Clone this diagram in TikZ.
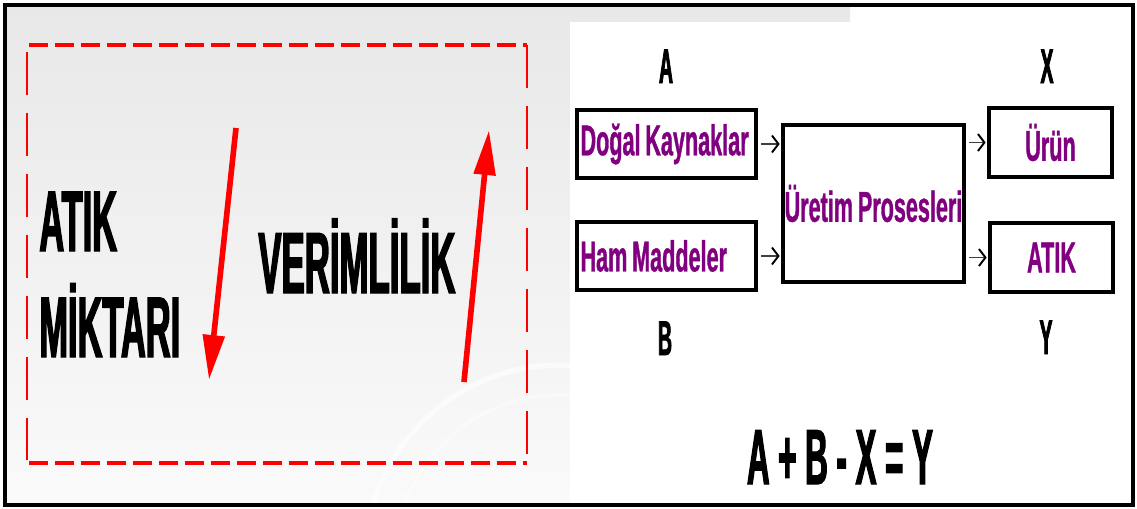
\documentclass[tikz,border=0pt]{standalone}
\usepackage{fontspec}
\newfontfamily\darfont[FakeStretch=0.4, FakeBold=1.5]{Liberation Sans}
\newfontfamily\kutufont[FakeStretch=0.5, WordSpace=0.8, FakeBold=0.8]{Liberation Sans}
\usetikzlibrary{arrows.meta,calc}
\definecolor{mor}{RGB}{128,0,128}

\begin{document}
\begin{tikzpicture}[x=0.02cm,y=-0.02cm,
  buyukyazi/.style={font=\darfont\bfseries\fontsize{49}{50}\selectfont, inner sep=0, anchor=base west},
  harf/.style={font=\darfont\bfseries\fontsize{27.7}{28}\selectfont, inner sep=0, anchor=base},
  kutu/.style={draw, line width=1.8pt, fill=white, text=mor, inner sep=0,
    font=\kutufont\bfseries\fontsize{24.6}{26}\selectfont},
  girdi/.style={kutu, minimum width=3.58cm, minimum height=1.36cm, text width=3.44cm, align=flush left},
  ok/.style={draw=black!75, line width=1.1pt, shorten <=2pt, shorten >=1pt,
    -{Straight Barb[length=0.13cm, width=0.34cm, color=black]}},
  kirmiziok/.style={red, line width=3.2pt, -{Triangle[length=0.9cm, width=0.42cm]}},
  yatay/.style={red, line width=2.8pt, dash pattern=on 0.38cm off 0.14cm},
  dikey/.style={red, line width=1.2pt, dash pattern=on 0.86cm off 0.36cm}]
\useasboundingbox (0,0) rectangle (1137,508);

% arka plan
\shade[top color=black!9, bottom color=black!2] (5,5) rectangle (850,505);
\begin{scope}
  \clip (5,5) rectangle (570,505);
  \draw[white, line width=3pt, opacity=0.6] (560,560) circle (3.9cm);
  \draw[white, line width=2pt, opacity=0.4] (560,560) circle (3.3cm);
\end{scope}
\fill[white] (570,22) rectangle (1133,505);

% kesikli kutu
\draw[yatay] (29,45) -- (527,45);
\draw[yatay] (29,463) -- (527,463);
\draw[dikey] (27,52) -- (27,460);
\draw[dikey] (527,45) -- (527,463);

\node[buyukyazi] (atik) at (39,251) {ATIK};
\node[buyukyazi] (miktari) at (39,357) {MİKTARI};
\node[buyukyazi, font=\darfont\bfseries\fontsize{49.5}{50}\selectfont] (verimlilik) at (258,293) {VERİMLİLİK};

\coordinate (asagiust) at (236,128);
\coordinate (asagiuc) at (209,380);
\coordinate (yukarialt) at (464,382);
\coordinate (yukariuc) at (489,130);
\draw[kirmiziok] (asagiust) -- (asagiuc);
\draw[kirmiziok] (yukarialt) -- (yukariuc);

% akis semasi
\node[harf] (a) at (666,83) {A};
\node[harf] (x) at (1047,83) {X};
\node[harf] (b) at (665,355) {B};
\node[harf] (y) at (1046,354) {Y};

\node[girdi] (dogal) at (666.5,144) {Doğal Kaynaklar};
\node[girdi] (ham) at (666.5,256) {Ham Maddeler};
\node[kutu, minimum width=3.62cm, minimum height=3.14cm] (uretim) at (873.5,203.5) {Üretim Prosesleri};
\node[kutu, minimum width=2.46cm, minimum height=1.38cm] (urun) at (1050.5,142.5) {Ürün};
\node[kutu, minimum width=2.46cm, minimum height=1.38cm] (atikkutu) at (1051.5,257.5) {ATIK};

\draw[ok] (dogal.east) -- (uretim.west |- dogal.east);
\draw[ok] (ham.east) -- (uretim.west |- ham.east);
\draw[ok] (uretim.east |- urun.west) -- (urun.west);
\draw[ok] (uretim.east |- atikkutu.west) -- (atikkutu.west);

\node[harf, font=\darfont\bfseries\fontsize{44.5}{45}\selectfont] (esitlik) at (840,484) {A + B - X = Y};

% cerceve
\draw[line width=2.3pt] (5,5) rectangle (1133,505);
\end{tikzpicture}
\end{document}
